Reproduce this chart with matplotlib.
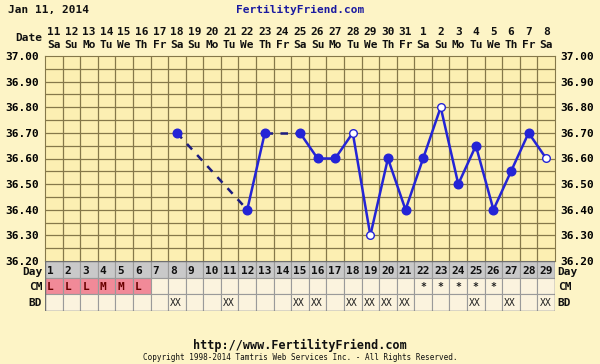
import matplotlib
matplotlib.use("Agg")
import matplotlib.pyplot as plt
import numpy as np

# chart data
dates = [11, 12, 13, 14, 15, 16, 17, 18, 19, 20, 21, 22, 23, 24, 25, 26, 27, 28, 29, 30, 31,
         1, 2, 3, 4, 5, 6, 7, 8]
weekdays = ["Sa", "Su", "Mo", "Tu", "We", "Th", "Fr"] * 4 + ["Sa"]
cycle_days = list(range(1, 30))
temp_days = [8, 12, 13, 15, 16, 17, 18, 19, 20, 21, 22, 23, 24, 25, 26, 27, 28, 29]
temps = [36.70, 36.40, 36.70, 36.70, 36.60, 36.60, 36.70, 36.30, 36.60, 36.40,
         36.60, 36.80, 36.50, 36.65, 36.40, 36.55, 36.70, 36.60]
open_days = [18, 19, 23, 29]
cm = {1: "L", 2: "L", 3: "L", 4: "M", 5: "M", 6: "L",
      22: "*", 23: "*", 24: "*", 25: "*", 26: "*"}
bd_days = [8, 11, 15, 16, 18, 19, 20, 21, 25, 27, 29]
yticks = [36.20, 36.30, 36.40, 36.50, 36.60, 36.70, 36.80, 36.90, 37.00]

bg = "#fdf4c6"
plotbg = "#fcefb2"
gridc = "#85784a"
blue = "#2424d6"
fnt = "DejaVu Sans Mono"
fs = 8

fig = plt.figure(figsize=(6, 3.64), dpi=100, facecolor=bg)
W, H = 600.0, 364.0
L, R = 45, 555
top, bot = 56, 261
ax = fig.add_axes([L / W, 1 - bot / H, (R - L) / W, (bot - top) / H])
ax.set_facecolor(plotbg)
ax.set_xlim(0.5, 29.5)
ax.set_ylim(36.20, 37.00)
for x in np.arange(1.5, 29.5, 1):
    ax.axvline(x, color=gridc, lw=0.9, zorder=1)
for y in np.arange(36.25, 37.0, 0.05):
    ax.axhline(y, color=gridc, lw=0.9, zorder=1)
for s in ax.spines.values():
    s.set_color(gridc)
ax.set_xticks([])
ax.set_yticks(yticks)
ax.set_yticklabels(["%.2f" % v for v in yticks], fontfamily=fnt, fontweight="bold", fontsize=fs)
ax.tick_params(axis="y", length=0, pad=4, labelright=True)

# line segments, dashed across gaps
for i in range(len(temp_days) - 1):
    d0, d1 = temp_days[i], temp_days[i + 1]
    ls = "-" if d1 - d0 == 1 else (0, (3, 3))
    c = blue if d1 - d0 == 1 else "#1c1c80"
    ax.plot([d0, d1], [temps[i], temps[i + 1]], color=c, lw=1.8, ls=ls, zorder=3)
for d, t in zip(temp_days, temps):
    if d in open_days:
        ax.plot(d, t, "o", ms=5.5, mfc="white", mec=blue, mew=1.0, zorder=4)
    else:
        ax.plot(d, t, "o", ms=6.2, mfc=blue, mec=blue, zorder=4)

# table rows below chart
tbl_bot = 311
tx = fig.add_axes([L / W, 1 - tbl_bot / H, (R - L) / W, (tbl_bot - bot) / H])
tx.set_xlim(0.5, 29.5)
tx.set_ylim(0, 3)
tx.axis("off")
for d in cycle_days:
    tx.add_patch(plt.Rectangle((d - 0.5, 2), 1, 1, fc="#c9c9c9", ec="#9a9a9a", lw=0.8))
    cmc = "#f18a98" if d in cm and cm[d] != "*" else "#fbf3de"
    tx.add_patch(plt.Rectangle((d - 0.5, 1), 1, 1, fc=cmc, ec="#9a9a9a", lw=0.8))
    tx.add_patch(plt.Rectangle((d - 0.5, 0), 1, 1, fc="#fbf3de", ec="#9a9a9a", lw=0.8))
    tx.text(d - 0.38, 2.4, str(d), ha="left", va="center", fontfamily=fnt,
            fontweight="bold", fontsize=fs, color="#101010")
    if d in cm:
        if cm[d] == "*":
            tx.text(d, 1.45, "*", ha="center", va="center", fontfamily=fnt,
                    fontweight="bold", fontsize=7, color="#202020")
        else:
            tx.text(d - 0.38, 1.45, cm[d], ha="left", va="center", fontfamily=fnt,
                    fontweight="bold", fontsize=fs, color="#6a0000")
    if d in bd_days:
        tx.text(d - 0.38, 0.45, "XX", ha="left", va="center", fontfamily=fnt,
                fontsize=7, color="#202020")
tx.add_patch(plt.Rectangle((0.5, 0), 29, 3, fc="none", ec="#707070", lw=1))
for y, lab in zip([2.35, 1.45, 0.45], ["Day", "CM", "BD"]):
    tx.text(0.35, y, lab, ha="right", va="center", fontfamily=fnt, fontweight="bold",
            fontsize=fs, color="#101010")
    tx.text(29.65, y, lab, ha="left", va="center", fontfamily=fnt, fontweight="bold",
            fontsize=fs, color="#101010")

# header rows
col_w = (R - L) / 29.0
for i, (dt, wd) in enumerate(zip(dates, weekdays)):
    x = (L + (i + 0.5) * col_w) / W
    fig.text(x, 1 - 32 / H, str(dt), ha="center", va="center", fontfamily=fnt,
             fontweight="bold", fontsize=fs, color="#101010")
    fig.text(x, 1 - 45 / H, wd, ha="center", va="center", fontfamily=fnt,
             fontweight="bold", fontsize=fs, color="#101010")
fig.text(42 / W, 1 - 38 / H, "Date", ha="right", va="center", fontfamily=fnt,
         fontweight="bold", fontsize=fs, color="#101010")
fig.text(8 / W, 1 - 10 / H, "Jan 11, 2014", ha="left", va="center", fontfamily=fnt,
         fontweight="bold", fontsize=fs, color="#101010")
fig.text(300 / W, 1 - 10 / H, "FertilityFriend.com", ha="center", va="center",
         fontfamily=fnt, fontweight="bold", fontsize=fs, color="#1a1aa0")
fig.text(300 / W, 1 - 345 / H, "http://www.FertilityFriend.com", ha="center", va="center",
         fontfamily=fnt, fontweight="bold", fontsize=8.5, color="#101010")
fig.text(300 / W, 1 - 357 / H,
         "Copyright 1998-2014 Tamtris Web Services Inc. - All Rights Reserved.",
         ha="center", va="center", fontfamily=fnt, fontsize=5.5, color="#101010")

fig.savefig("out.png", dpi=100, facecolor=bg)
